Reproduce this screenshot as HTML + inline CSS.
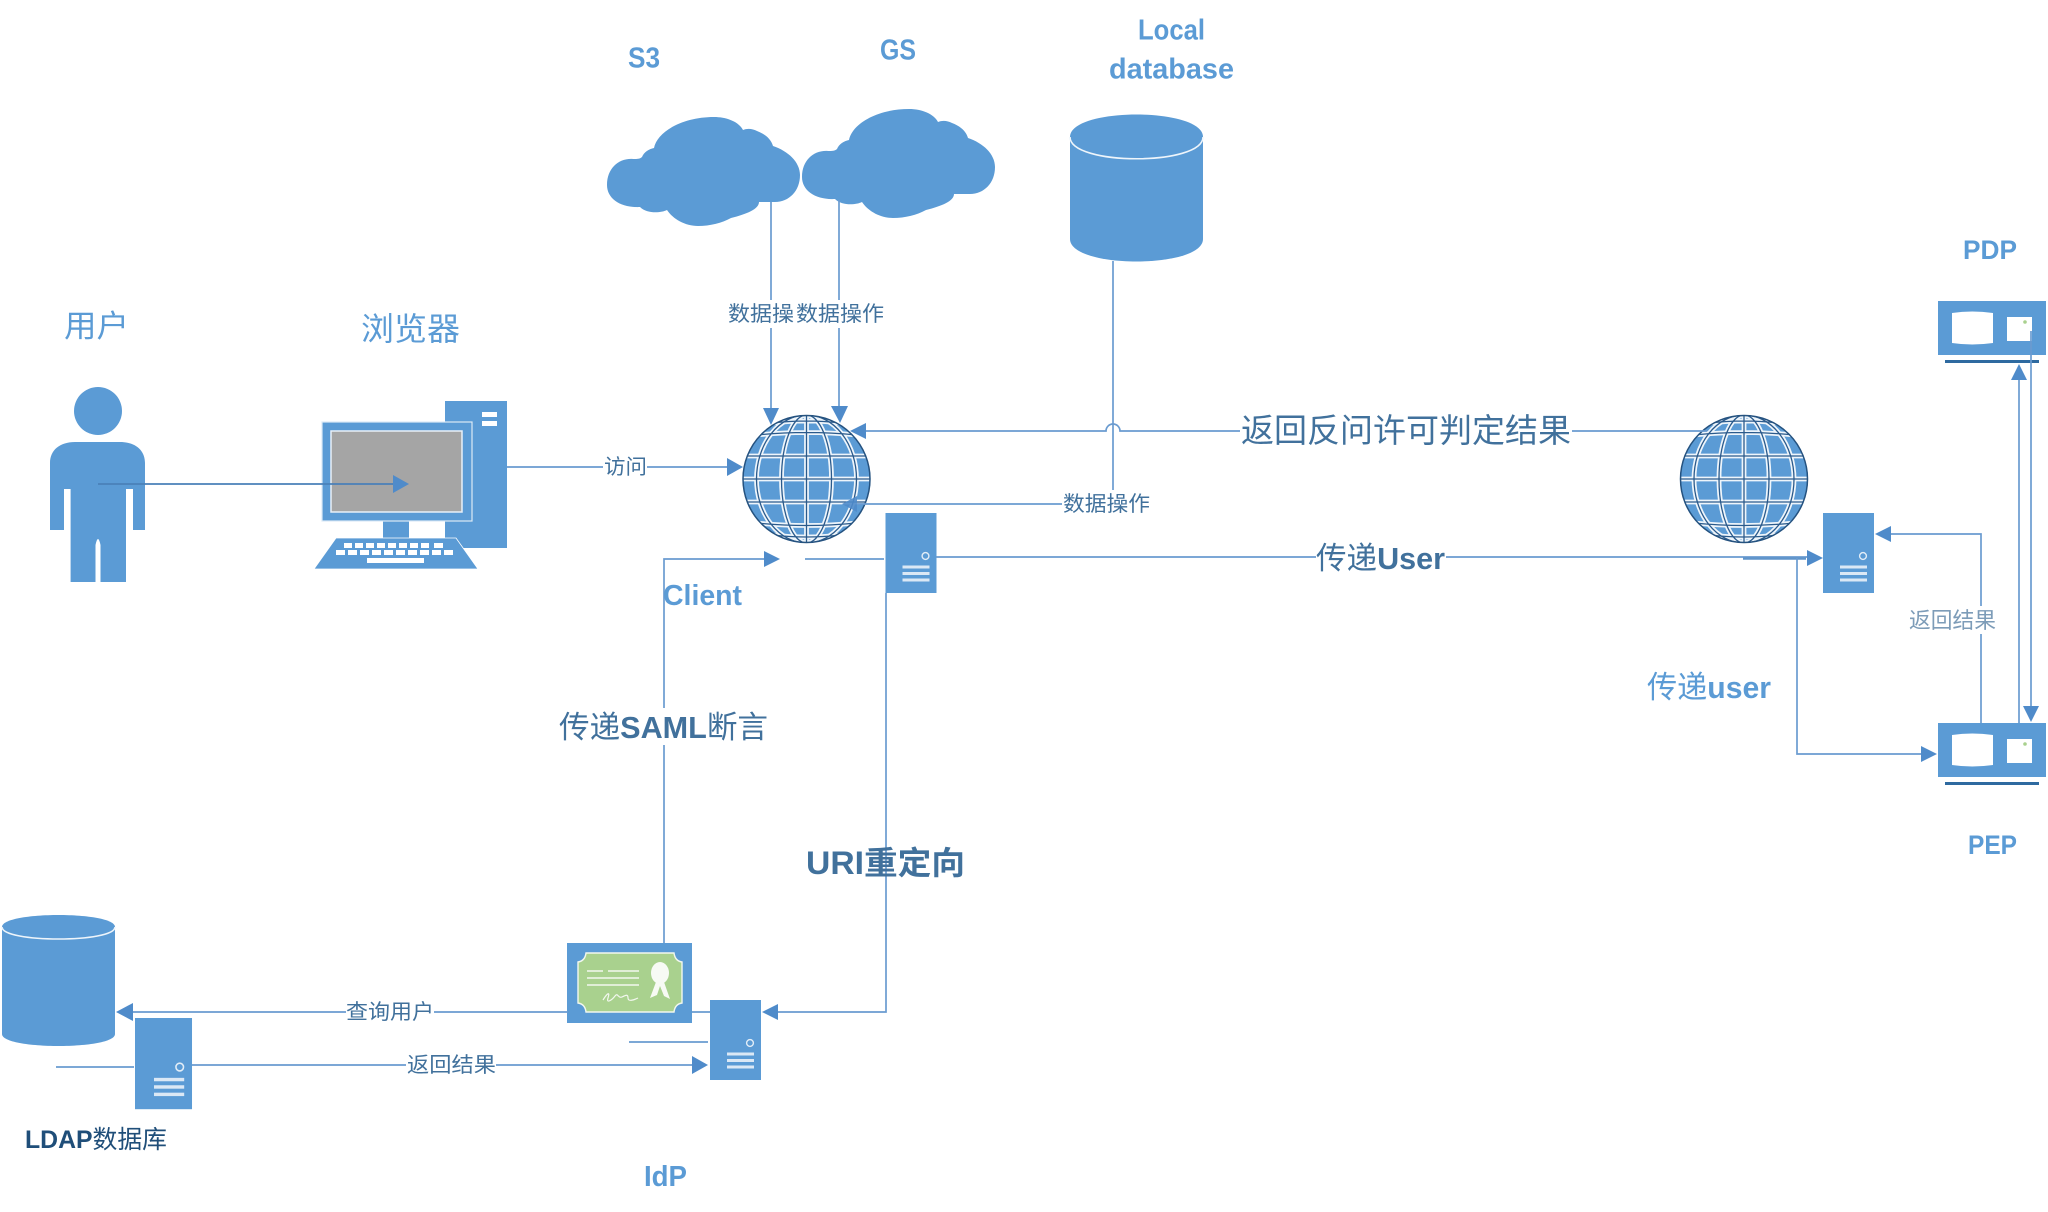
<!DOCTYPE html>
<html><head><meta charset="utf-8"><title>Diagram</title>
<style>
html,body{margin:0;padding:0;background:#fff}
svg{display:block}
text{font-family:"Liberation Sans","Noto Sans CJK SC",sans-serif}
.ln{fill:none;stroke:#6a9bd0;stroke-width:1.7}
.ar{fill:#4f8bca}
.b{fill:#5b9bd5}
.lab{fill:#41719c;font-size:21px}
.bl{fill:#5b9bd5;font-size:29px;font-weight:bold}
.h{font-weight:bold}
</style></head><body>
<svg width="2048" height="1212" viewBox="0 0 2048 1212" xmlns="http://www.w3.org/2000/svg">
<defs>
<clipPath id="gc"><circle cx="0" cy="0" r="63"/></clipPath>
<g id="grid">
<path d="M-64 0H64M-60 -23H60M-60 23H60M-50 -44Q0 -49 50 -44M-50 44Q0 49 50 44M-34 -56Q0 -60 34 -56M-34 56Q0 60 34 56M0 -64V64"/>
<ellipse cx="0" cy="0" rx="25" ry="64"/>
<ellipse cx="0" cy="0" rx="50" ry="64"/>
</g>
<g id="globe">
<circle r="64" fill="#5b9bd5"/>
<g clip-path="url(#gc)">
<use href="#grid" fill="none" stroke="#eef5fb" stroke-width="4.8"/>
<use href="#grid" fill="none" stroke="#2a5a8c" stroke-width="1.3"/>
</g>
<circle r="63.5" fill="none" stroke="#25527f" stroke-width="1.5"/>
</g>
<path id="cloud" fill="#5b9bd5" d="M0 68C0 51 12 41 26 42C30 42 33 42 35 40C37 35 42 32 47 31C50 15 75 0 107 0C120 0 132 5 136 13C141 11 146 12 150 14C158 17 164 22 166 29C181 34 193 45 193 58C193 74 182 85 168 85L152 85C152 92 140 97 124 101C115 106 103 109 91 109C78 109 66 102 60 93C54 96 40 97 33 90C14 91 0 82 0 68Z"/>
<g id="srv">
<rect x="0" y="0" width="51" height="80" fill="#5b9bd5"/>
<circle cx="40" cy="43" r="3.4" fill="none" stroke="#e2edf7" stroke-width="1.4"/>
<rect x="17" y="52.5" width="27" height="3" fill="#dbe8f5"/>
<rect x="17" y="59" width="27" height="3" fill="#dbe8f5"/>
<rect x="17" y="65.5" width="27" height="3" fill="#dbe8f5"/>
</g>
<g id="box">
<rect x="0" y="0" width="108" height="54" fill="#5b9bd5"/>
<path d="M14 12Q34 9 55 12V42Q34 45 14 42Z" fill="#fff"/>
<rect x="69" y="16" width="25" height="24" fill="#fff"/>
<circle cx="87" cy="21" r="1.8" fill="#a9d18e"/>
<rect x="7" y="59" width="94" height="3" fill="#2e6aa0"/>
</g>
</defs>

<!-- person -->
<ellipse class="b" cx="98" cy="411" rx="24" ry="24"/>
<path class="b" d="M50 530V463C50 450 60 442 75 442H120C135 442 145 450 145 463V530H133V489H126V582H100.5V545Q98 533 95.5 545V582H70.6V489H64V530Z"/>

<!-- computer -->
<rect class="b" x="445" y="401" width="62" height="147"/>
<rect x="482" y="412" width="15" height="5" fill="#fff"/>
<rect x="482" y="421" width="15" height="5" fill="#fff"/>
<rect x="383" y="521" width="26" height="17" class="b"/>
<rect class="b" x="322" y="422" width="150" height="99" stroke="#dceaf6" stroke-width="1.2"/>
<rect x="331" y="431" width="131" height="81" fill="#a5a5a5" stroke="#e8f0f8" stroke-width="1.5"/>
<path class="b" d="M336 538H456L478 569H314Z" stroke="#fff" stroke-width=".8"/>
<g fill="#fff">
<rect x="344" y="543" width="8" height="5"/><rect x="355" y="543" width="8" height="5"/><rect x="366" y="543" width="8" height="5"/><rect x="377" y="543" width="8" height="5"/><rect x="388" y="543" width="8" height="5"/><rect x="399" y="543" width="8" height="5"/><rect x="410" y="543" width="8" height="5"/><rect x="421" y="543" width="8" height="5"/><rect x="434" y="543" width="9" height="5"/>
<rect x="336" y="550" width="9" height="5"/><rect x="348" y="550" width="9" height="5"/><rect x="360" y="550" width="9" height="5"/><rect x="372" y="550" width="9" height="5"/><rect x="384" y="550" width="9" height="5"/><rect x="396" y="550" width="9" height="5"/><rect x="408" y="550" width="9" height="5"/><rect x="420" y="550" width="9" height="5"/><rect x="432" y="550" width="9" height="5"/><rect x="444" y="550" width="9" height="5"/>
<rect x="367" y="558" width="57" height="5"/>
</g>

<!-- person to browser -->
<path d="M98 484H394" fill="none" stroke="#4a80b8" stroke-width="1.7"/>
<path class="ar" d="M393 475L409 484L393 493Z"/>

<!-- clouds -->
<use href="#cloud" x="607" y="117"/>
<use href="#cloud" x="802" y="109"/>

<!-- local DB -->
<path class="b" d="M1070 137C1070 107 1203 107 1203 137V239C1203 269 1070 269 1070 239Z"/>
<path d="M1070 137C1070 166 1203 166 1203 137" fill="none" stroke="#eef5fb" stroke-width="1.6"/>

<!-- globes -->
<use href="#globe" x="806.5" y="479"/>
<use href="#globe" x="1744" y="479"/>

<!-- connectors top -->
<path class="ln" d="M771 202V300M771 328V410"/>
<path class="ar" d="M763 408H779L771 425Z"/>
<path class="ln" d="M839 200V300M839 328V408"/>
<path class="ar" d="M831 406H848L840 423Z"/>
<path class="ln" d="M1113 261V490"/>
<path class="ln" d="M866 431H1106A7 7 0 0 1 1120 431H1240M1572 431H1707"/>
<path class="ar" d="M850 431L866 423V439Z"/>
<path class="ln" d="M857 504H1062"/>
<path class="ar" d="M842 504L857 496V512Z" opacity=".9"/>
<path class="ln" d="M507 467H603M647 467H728"/>
<path class="ar" d="M727 458L743 467L727 476Z"/>

<!-- client server -->
<use href="#srv" x="885.5" y="513"/>
<path class="ln" d="M805 559H884"/>
<path class="ln" d="M664 943V745M664 708V559H765"/>
<path class="ar" d="M764 551L780 559L764 567Z"/>
<path class="ln" d="M936 557H1316M1446 557H1808"/>
<path d="M1743 558.5H1806" fill="none" stroke="#5f94ca" stroke-width="2.4"/>
<path class="ar" d="M1807 550L1823 558L1807 566Z"/>
<path class="ln" d="M886 593V1012H778"/>
<path class="ar" d="M762 1012L778 1004V1020Z"/>

<!-- right side -->
<use href="#srv" x="1823" y="513"/>
<use href="#box" x="1938" y="723"/>
<use href="#box" x="1938" y="301"/>
<path class="ln" d="M1981 723V634M1981 606V534H1890"/>
<path class="ar" d="M1875 534L1891 526V542Z"/>
<path class="ln" d="M1797 558V754H1922"/>
<path class="ar" d="M1921 746L1937 754L1921 762Z"/>
<path class="ln" d="M2019 723V378"/>
<path class="ar" d="M2019 364L2027 380H2011Z"/>
<path class="ln" d="M2031 331V708"/>
<path class="ar" d="M2023 706H2039L2031 722Z"/>

<!-- LDAP db -->
<path class="b" d="M2 927C2 911 115 911 115 927V1034C115 1050 2 1050 2 1034Z"/>
<path d="M2 927C2 943 115 943 115 927" fill="none" stroke="#eef5fb" stroke-width="1.6"/>

<!-- cert -->
<rect class="b" x="567" y="943" width="125" height="80"/>
<path d="M586 953H674Q675 961 682 962V1003Q675 1004 674 1012H586Q585 1004 578 1003V962Q585 961 586 953Z" fill="#a9d18e" stroke="#f2f7ee" stroke-width="1.4"/>
<g stroke="#f2f7ee" stroke-width="1.6" fill="none">
<path d="M587 971H603M608 971H639M587 978H639M587 985H639"/>
<path d="M603 1000C608 992 610 992 608 998S612 1000 615 996S618 999 622 997S628 994 628 998S634 1000 638 998" stroke-width="1.2"/>
</g>
<ellipse cx="660" cy="973" rx="9" ry="11" fill="#f7faf4"/>
<path d="M656 982L650 998L657 995L660 986L664 996L670 999L664 982Z" fill="#f7faf4"/>

<!-- LDAP / IdP -->
<use href="#srv" x="135" y="1018" transform="translate(135 1018) scale(1.118 1.14) translate(-135 -1018)"/>
<use href="#srv" x="710" y="1000"/>
<path class="ln" d="M568 1012H434M346 1012H132"/>
<path d="M692 1012H710" class="ln"/>
<path class="ar" d="M116 1012L133 1003V1021Z"/>
<path class="ln" d="M192 1065H406M496 1065H693"/>
<path class="ar" d="M692 1056L708 1065L692 1074Z"/>
<path class="ln" d="M56 1067H134"/>
<path class="ln" d="M629 1042H708"/>

<!-- labels -->
<text x="64" y="337" font-size="31" fill="#5b9bd5" textLength="65" lengthAdjust="spacingAndGlyphs">用户</text>
<text x="361" y="340" font-size="32" fill="#5b9bd5" textLength="99" lengthAdjust="spacingAndGlyphs">浏览器</text>
<text class="bl" x="628" y="67.5" textLength="32" lengthAdjust="spacingAndGlyphs">S3</text>
<text class="bl" x="880" y="59.5" textLength="36" lengthAdjust="spacingAndGlyphs">GS</text>
<text class="bl" x="1138" y="39.5" textLength="67" lengthAdjust="spacingAndGlyphs">Local</text>
<text class="bl" x="1109" y="78.5" textLength="125" lengthAdjust="spacingAndGlyphs">database</text>
<text class="bl" x="663" y="605" textLength="79" lengthAdjust="spacingAndGlyphs">Client</text>
<text class="bl" x="644" y="1186" textLength="43" lengthAdjust="spacingAndGlyphs">IdP</text>
<text class="bl" x="1963" y="259" textLength="54" lengthAdjust="spacingAndGlyphs" style="font-size:27px">PDP</text>
<text class="bl" x="1968" y="854" textLength="49" lengthAdjust="spacingAndGlyphs" style="font-size:27px">PEP</text>

<text class="lab" x="728" y="321" textLength="66" lengthAdjust="spacingAndGlyphs">数据操</text>
<text class="lab" x="796" y="321" textLength="88" lengthAdjust="spacingAndGlyphs">数据操作</text>
<text class="lab" x="604" y="474" textLength="43" lengthAdjust="spacingAndGlyphs">访问</text>
<text class="lab" x="1063" y="511" textLength="87" lengthAdjust="spacingAndGlyphs">数据操作</text>
<text class="lab" x="346" y="1019" textLength="88" lengthAdjust="spacingAndGlyphs">查询用户</text>
<text class="lab" x="407" y="1072" textLength="89" lengthAdjust="spacingAndGlyphs">返回结果</text>
<text x="1909" y="628" font-size="22" fill="#7d9cb8" textLength="87" lengthAdjust="spacingAndGlyphs">返回结果</text>

<text x="1241" y="442" font-size="33" fill="#41719c" textLength="330" lengthAdjust="spacing">返回反问许可判定结果</text>
<text x="1316" y="569" font-size="31" fill="#41719c" textLength="129" lengthAdjust="spacingAndGlyphs">传递<tspan class="h">User</tspan></text>
<text x="1647" y="698" font-size="31" fill="#5b9bd5" textLength="124" lengthAdjust="spacingAndGlyphs">传递<tspan class="h">user</tspan></text>
<text x="559" y="738" font-size="31" fill="#41719c" textLength="209" lengthAdjust="spacingAndGlyphs">传递<tspan class="h">SAML</tspan>断言</text>
<text x="806" y="874" font-size="32" font-weight="bold" fill="#41719c" textLength="159" lengthAdjust="spacingAndGlyphs">URI重定向</text>
<text x="25" y="1148" font-size="25" fill="#1f4e79" textLength="142" lengthAdjust="spacingAndGlyphs"><tspan class="h">LDAP</tspan>数据库</text>
</svg>
</body></html>
